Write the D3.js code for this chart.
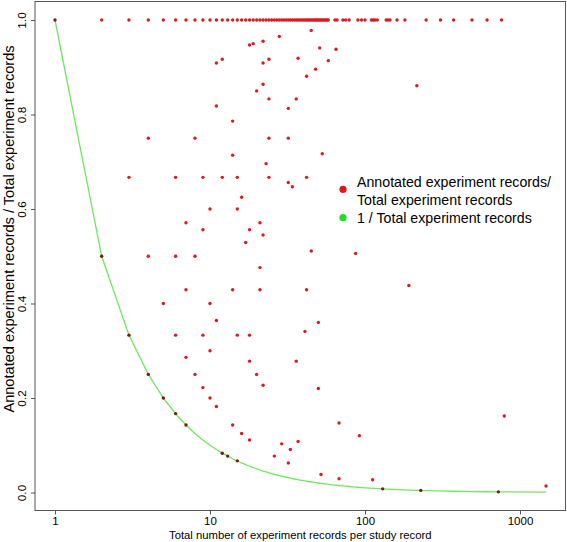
<!DOCTYPE html>
<html>
<head>
<meta charset="utf-8">
<script src="https://cdnjs.cloudflare.com/ajax/libs/d3/7.8.5/d3.min.js"></script>
<style>
  html, body { margin: 0; padding: 0; background: #fff; }
  svg { display: block; font-family: "Liberation Sans", Arial, Helvetica, sans-serif; }
</style>
</head>
<body>
<svg id="chart" width="567" height="542"></svg>
<script>
// ---- data ----
// study records where every experiment record is annotated (ratio = 1)
const fullTotals = [1,2,3,4,5,6,7,8,9,10,11,12,13,14,15,16,17,
  18,19,20,21,22,23,24,25,26,27,28,29,30,31,32,33,34,35,36,37,38,39,40,
  41,42,43,44,45,46,47,48,49,50,51,52,53,54,55,56,57,58,
  64,66,72,75,79,90,95,100,110,113,116,120,137,141,145,161,181,248,307,373,490,613,760];

// other study records: total experiment records and annotated ratio
const otherTotals = [18,19,22,28, 11,12,22,24,37,42,22,20,24,36,11,32,14,
  4,8,24,32, 45,51,65,58,48,216, 14,23,
  3,6,9,12,15,24,42, 32,34,16,10,15,7,21,9,18,22,17,
  2,4,6,8,21, 53,45,87,
  7,14,21,42,5,10,11,
  3,6,9,15,18,41,
  10,7,18,36,8,20,9,22,4,5,10,
  192,50,50,
  11,6,7,14,16,18,12,13,15,
  26,29,33,32,37,
  68,92,792,52,68,112,130,229,725,1472];
const otherRatios = [0.947,0.950,0.955,0.965, 0.909,0.917,0.909,0.917,0.919,0.881,0.864,0.850,0.833,0.833,0.818,0.813,0.786,
  0.75,0.75,0.75,0.75, 0.978,0.941,0.938,0.914,0.896,0.861, 0.714,0.696,
  0.667,0.667,0.667,0.667,0.667,0.667,0.667, 0.656,0.647,0.625,0.6,0.6,0.571,0.571,0.556,0.556,0.545,0.529,
  0.5,0.5,0.5,0.5,0.476, 0.717,0.511,0.506,
  0.429,0.429,0.429,0.429,0.4,0.4,0.364,
  0.333,0.333,0.333,0.333,0.333,0.341,
  0.3,0.286,0.278,0.278,0.25,0.25,0.222,0.227,0.25,0.2,0.2,
  0.438,0.36,0.22,
  0.182,0.167,0.143,0.143,0.125,0.111,0.083,0.077,0.067,
  0.077,0.103,0.091,0.0625,0.108,
  0.147,0.12,0.162,0.038,0.029,0.027,0.0077,0.0044,0.0014,0.0136];

const xTicks = [1, 10, 100, 1000];
const yTicks = [0, 0.2, 0.4, 0.6, 0.8, 1.0];
const xTitle = "Total number of experiment records per study record";
const yTitle = "Annotated experiment records / Total experiment records";
const legendLabels = [["Annotated experiment records/", "Total experiment records"], ["1 / Total experiment records"]];
const legendColors = ["#e8141c", "#22dd22"];

// ---- build ----
const points = fullTotals.map(t => ({x: t, y: 1}))
  .concat(otherTotals.map((t, i) => ({x: t, y: otherRatios[i]})));

const svg = d3.select("#chart");
const box = {left: 35, top: 1.5, right: 565.5, bottom: 510.5};

const x = d3.scaleLog().domain([1, 1000]).range([55, 520]);
const y = d3.scaleLinear().domain([0, 1]).range([492.5, 20]);

// green line: 1 / total, through the sorted totals
const uniq = Array.from(new Set(points.map(d => d.x))).sort((a, b) => a - b);
const line = d3.line().x(d => x(d)).y(d => y(1 / d));
svg.append("path").attr("d", line(uniq))
  .attr("fill", "none").attr("stroke", "#6ee85e").attr("stroke-width", 1.3);

// points
svg.append("g").selectAll("circle").data(points).join("circle")
  .attr("cx", d => x(d.x)).attr("cy", d => y(d.y)).attr("r", 1.7)
  .attr("fill", d => Math.abs(d.x * d.y - 1) < 0.06 ? "#7a1a10" : "#dc1a1e");

// frame
svg.append("rect").attr("x", box.left).attr("y", box.top)
  .attr("width", box.right - box.left).attr("height", box.bottom - box.top)
  .attr("fill", "none").attr("stroke", "#555").attr("stroke-width", 1);

// x axis
const xa = svg.append("g").attr("transform", `translate(0,${box.bottom})`)
  .call(d3.axisBottom(x).tickValues(xTicks).tickFormat(d3.format("d")).tickSize(4).tickPadding(2));
xa.select(".domain").remove();
xa.selectAll("line").attr("stroke", "#555");
xa.selectAll("text").attr("font-size", 11.5).attr("fill", "#000").attr("font-family", null);

// y axis
const ya = svg.append("g").attr("transform", `translate(${box.left},0)`)
  .call(d3.axisLeft(y).tickValues(yTicks).tickFormat(d3.format(".1f")).tickSize(4));
ya.select(".domain").remove();
ya.selectAll("line").attr("stroke", "#555");
ya.selectAll("text").remove();
ya.selectAll(".tick").append("text")
  .attr("transform", "translate(-13,0) rotate(-90)")
  .attr("text-anchor", "middle").attr("dominant-baseline", "central")
  .attr("font-size", 11.8).attr("fill", "#000").text(d => d3.format(".1f")(d));

// titles
svg.append("text").attr("x", (box.left + box.right) / 2).attr("y", 539)
  .attr("text-anchor", "middle").attr("font-size", 11.3).attr("fill", "#000").text(xTitle);
svg.append("text").attr("transform", `translate(13.5,229) rotate(-90)`)
  .attr("text-anchor", "middle").attr("font-size", 14.6).attr("fill", "#000").text(yTitle);

// legend
const lg = svg.append("g");
const rowY = [[181.5, 199.5], [217.7]];
const dotY = [189.3, 217.7];
legendLabels.forEach((lines, i) => {
  lg.append("circle").attr("cx", 343).attr("cy", dotY[i]).attr("r", 3.6).attr("fill", legendColors[i]);
  lines.forEach((t, j) => {
    lg.append("text").attr("x", 357).attr("y", rowY[i][j]).attr("dominant-baseline", "central")
      .attr("font-size", 14.2).attr("fill", "#000").text(t);
  });
});
</script>
</body>
</html>
